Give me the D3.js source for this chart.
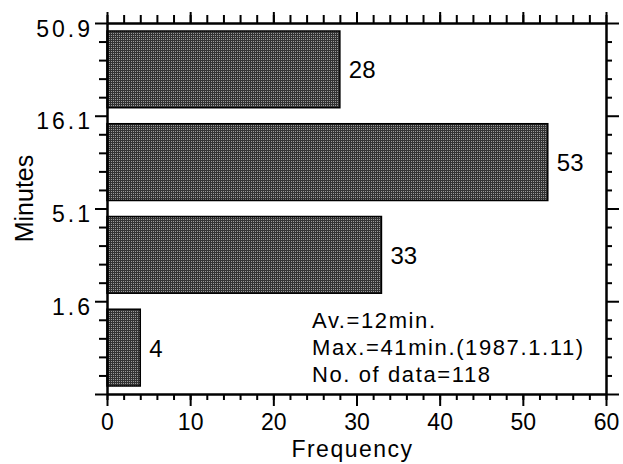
<!DOCTYPE html>
<html>
<head>
<meta charset="utf-8">
<script src="https://cdn.jsdelivr.net/npm/d3@7"></script>
<style>
  body { margin: 0; background: #fff; }
  svg text { font-family: "Liberation Sans", Arial, Helvetica, sans-serif; fill: #000; }
  .axis path, .axis line { stroke: #000; stroke-width: 2px; }
</style>
</head>
<body>
<div id="chart"></div>
<script>
// bin edges on the duration axis (minutes), log spaced
var binEdges = [0.509, 1.61, 5.09, 16.1, 50.9];
var binLabels = ["", "1.6", "5.1", "16.1", "50.9"];
// number of events in each bin, bottom to top
var counts = [4, 33, 53, 28];
var freqTicks = [0, 10, 20, 30, 40, 50, 60];
var notes = ["Av.=12min.", "Max.=41min.(1987.1.11)", "No. of data=118"];

var margin = {top: 23, right: 17, bottom: 70, left: 107};
var width = 623 - margin.left - margin.right;
var height = 464 - margin.top - margin.bottom;

var x = d3.scaleLinear().domain([0, 60]).range([0, width]);
var y = d3.scaleLog().domain([binEdges[0], binEdges[binEdges.length - 1]]).range([height, 0]);

var svg = d3.select("#chart").append("svg")
    .attr("width", 623)
    .attr("height", 464)
    .append("g")
    .attr("transform", "translate(" + margin.left + "," + margin.top + ")");

// stipple fill like the print
var defs = svg.append("defs");
var pat = defs.append("pattern")
    .attr("id", "stipple")
    .attr("patternUnits", "userSpaceOnUse")
    .attr("width", 2).attr("height", 2);
pat.append("rect").attr("width", 2).attr("height", 2).attr("fill", "#333");
pat.append("rect").attr("width", 1).attr("height", 1).attr("fill", "#9a9a9a");

var bins = counts.map(function(c, i) {
    return {lo: binEdges[i], hi: binEdges[i + 1], n: c};
});

var barPad = 8;
svg.selectAll(".bar")
    .data(bins)
    .enter()
    .append("rect")
    .attr("class", "bar")
    .attr("x", x(0))
    .attr("y", function(d) { return y(d.hi) + barPad; })
    .attr("width", function(d) { return x(d.n) - x(0); })
    .attr("height", function(d) { return y(d.lo) - y(d.hi) - 2 * barPad; })
    .attr("fill", "url(#stipple)")
    .attr("stroke", "#000")
    .attr("stroke-width", 1.5);

svg.selectAll(".val")
    .data(bins)
    .enter()
    .append("text")
    .attr("class", "val")
    .attr("x", function(d) { return x(d.n) + 9; })
    .attr("y", function(d) { return (y(d.hi) + y(d.lo)) / 2 + 9; })
    .style("font-size", "24px")
    .text(function(d) { return d.n; });

// minor tick values: 4 between each pair of edges (log spaced)
var yMinor = [];
for (let i = 0; i < binEdges.length - 1; i++) {
    for (let k = 1; k < 5; k++) {
        yMinor.push(binEdges[i] * Math.pow(binEdges[i + 1] / binEdges[i], k / 5));
    }
}
var xMinor = d3.range(0, 61, 2);

function styleAxis(g) {
    g.attr("class", "axis");
    g.selectAll("line").attr("stroke-width", 2);
}

// bottom
svg.append("g").attr("transform", "translate(0," + height + ")")
    .call(d3.axisBottom(x).tickValues(xMinor).tickSize(6).tickSizeOuter(0).tickFormat(""))
    .call(styleAxis);
var xb = svg.append("g").attr("transform", "translate(0," + height + ")")
    .call(d3.axisBottom(x).tickValues(freqTicks).tickSize(12).tickSizeOuter(0))
    .call(styleAxis);
xb.selectAll("text").attr("y", 36).attr("dy", null).style("font-size", "23px");

// top
svg.append("g")
    .call(d3.axisTop(x).tickValues(xMinor).tickSize(8).tickSizeOuter(0).tickFormat(""))
    .call(styleAxis);
svg.append("g")
    .call(d3.axisTop(x).tickValues(freqTicks).tickSize(11).tickSizeOuter(0).tickFormat(""))
    .call(styleAxis);

// left
svg.append("g")
    .call(d3.axisLeft(y).tickValues(yMinor).tickSize(8).tickSizeOuter(0).tickFormat(""))
    .call(styleAxis);
var yl = svg.append("g")
    .call(d3.axisLeft(y).tickValues(binEdges).tickSize(12).tickSizeOuter(0).tickPadding(2)
        .tickFormat(function(d, i) { return binLabels[i]; }))
    .call(styleAxis);
yl.selectAll("text").attr("y", 13).attr("dy", null)
    .style("font-size", "23px").style("letter-spacing", "3px");

// right
svg.append("g").attr("transform", "translate(" + width + ",0)")
    .call(d3.axisRight(y).tickValues(yMinor).tickSize(6).tickSizeOuter(0).tickFormat(""))
    .call(styleAxis);
svg.append("g").attr("transform", "translate(" + width + ",0)")
    .call(d3.axisRight(y).tickValues(binEdges).tickSize(13).tickSizeOuter(0).tickFormat(""))
    .call(styleAxis);

svg.append("text")
    .attr("x", width / 2 - 4)
    .attr("y", height + 63)
    .attr("text-anchor", "middle")
    .style("font-size", "23px")
    .style("letter-spacing", "1.5px")
    .text("Frequency");

svg.append("text")
    .attr("transform", "rotate(-90)")
    .attr("x", -(height / 2) + 10)
    .attr("y", 33 - margin.left)
    .attr("text-anchor", "middle")
    .style("font-size", "25px")
    .text("Minutes");

svg.selectAll(".note")
    .data(notes)
    .enter()
    .append("text")
    .attr("class", "note")
    .attr("x", 205)
    .attr("y", function(d, i) { return 305 + i * 27; })
    .style("font-size", "22px")
    .style("letter-spacing", "1.6px")
    .text(function(d) { return d; });
</script>
</body>
</html>
